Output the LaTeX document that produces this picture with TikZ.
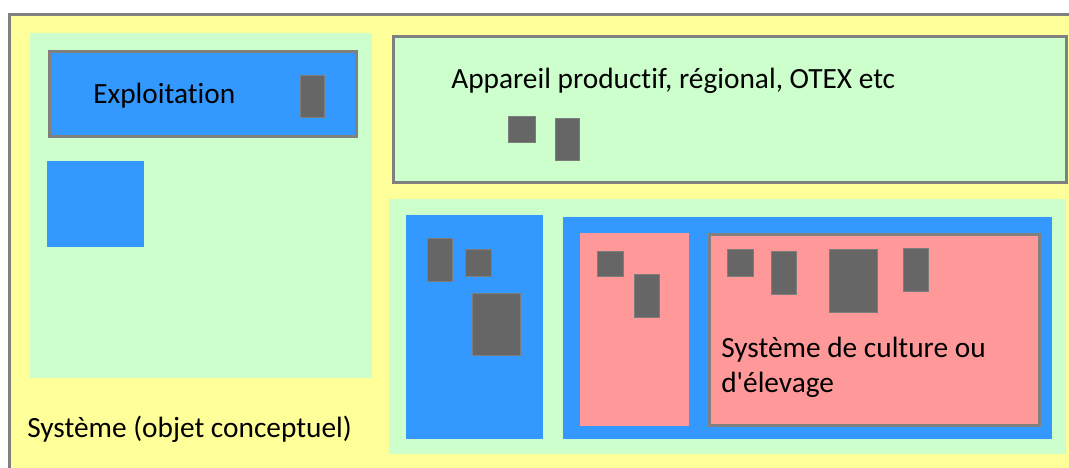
\documentclass[tikz,border=0pt]{standalone}
\usepackage{fontspec}
\setmainfont{Carlito}[Ligatures={NoCommon,TeX}]
\usepackage{tikz,xcolor}
\usetikzlibrary{positioning}

\definecolor{jaune}{HTML}{FFFF99}
\definecolor{vert}{HTML}{CCFFCC}
\definecolor{bleu}{HTML}{3399FF}
\definecolor{rose}{HTML}{FF9999}
\definecolor{bord}{HTML}{808080}
\definecolor{pave}{HTML}{666666}

\begin{document}
\begin{tikzpicture}[x=0.75pt,y=-0.75pt,
    cadre/.style={draw=bord,line width=2.25pt},
    bloc/.style={fill=pave,draw=pave!85!white,line width=0.5pt},
    texte/.style={anchor=base west,inner sep=0pt,font=\fontsize{22}{26}\selectfont}]
    \useasboundingbox (0,0) rectangle (1069,467);
    \fill[white] (0,0) rectangle (1069,467);
    % systeme
    \filldraw[fill=jaune,cadre] (9.5,14.5) rectangle (1085,485);
    \node[texte] at (27,437) (systeme) {Système (objet conceptuel)};
    % partie gauche
    \fill[vert] (30,33) rectangle (372,378);
    \filldraw[fill=bleu,cadre] (49.5,51.5) rectangle (356.5,136.5);
    \node[texte] at (93,103) (exploitation) {Exploitation};
    \filldraw[bloc] (300,75) rectangle (324,117);
    \fill[bleu] (47,161) rectangle (144,247);
    % appareil productif
    \filldraw[fill=vert,cadre] (393.5,36.5) rectangle (1066.5,182);
    \node[texte] at (451,89) (appareil) {Appareil productif, régional, OTEX etc};
    \filldraw[bloc] (508,116) rectangle (535,142);
    \filldraw[bloc] (555,118) rectangle (579,160);
    % partie basse
    \fill[vert] (389,199) rectangle (1066,454);
    \fill[bleu] (406,215) rectangle (543,439);
    \filldraw[bloc] (427,238) rectangle (452,281);
    \filldraw[bloc] (465,249) rectangle (491,276);
    \filldraw[bloc] (472,293) rectangle (520,355);
    \fill[bleu] (563,217) rectangle (1052,439);
    \fill[rose] (580,233) rectangle (689,426);
    \filldraw[bloc] (597,251) rectangle (623,276);
    \filldraw[bloc] (634,274) rectangle (659,317);
    \filldraw[fill=rose,cadre] (709,234) rectangle (1039.5,425.5);
    \filldraw[bloc] (727,249) rectangle (753,276);
    \filldraw[bloc] (771,251) rectangle (796,294);
    \filldraw[bloc] (829,249) rectangle (877,312);
    \filldraw[bloc] (903,248) rectangle (928,291);
    \node[texte] at (721,357) (culture) {Système de culture ou};
    \node[texte] at (721,392) (elevage) {d\textquotesingle élevage};
\end{tikzpicture}
\end{document}
